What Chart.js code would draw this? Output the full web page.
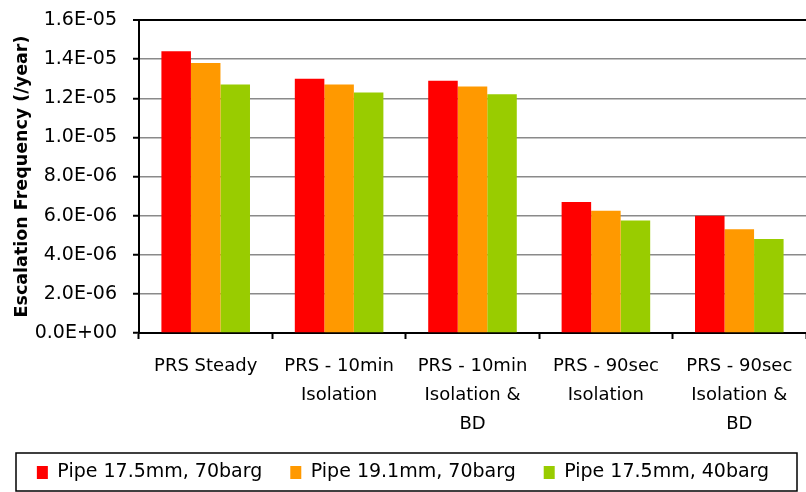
<!DOCTYPE html>
<html>
<head>
<meta charset="utf-8">
<script src="https://cdn.jsdelivr.net/npm/chart.js@4.4.0/dist/chart.umd.min.js"></script>
<style>
  html, body { margin: 0; padding: 0; background: #fff; }
  #wrap { width: 806px; height: 492px; position: relative; }
</style>
</head>
<body>
<div id="wrap"><canvas id="c"></canvas></div>
<script>
const categories = [
  ['PRS Steady'],
  ['PRS - 10min', 'Isolation'],
  ['PRS - 10min', 'Isolation &', 'BD'],
  ['PRS - 90sec', 'Isolation'],
  ['PRS - 90sec', 'Isolation &', 'BD']
];
const seriesNames = ['Pipe 17.5mm, 70barg', 'Pipe 19.1mm, 70barg', 'Pipe 17.5mm, 40barg'];
const pipe175_70 = [1.44e-5, 1.30e-5, 1.29e-5, 6.7e-6, 6.0e-6];
const pipe191_70 = [1.38e-5, 1.27e-5, 1.26e-5, 6.25e-6, 5.3e-6];
const pipe175_40 = [1.27e-5, 1.23e-5, 1.22e-5, 5.75e-6, 4.8e-6];
const yMin = 0, yMax = 1.6e-5, yStep = 2e-6;
const yTitle = 'Escalation Frequency (/year)';

const colors = ['#FF0000', '#FF9900', '#99CC00'];

function fmtExp(v) {
  if (Math.abs(v) < 1e-20) return '0.0E+00';
  let e = Math.floor(Math.log10(Math.abs(v)) + 1e-9);
  let m = v / Math.pow(10, e);
  if (Math.abs(m) >= 9.95) { m /= 10; e += 1; }
  const sign = e < 0 ? '-' : '+';
  const ea = Math.abs(e);
  return m.toFixed(1) + 'E' + sign + (ea < 10 ? '0' + ea : '' + ea);
}

Chart.defaults.font.family = "'DejaVu Sans', sans-serif";
Chart.defaults.color = '#000';

const legendBorder = {
  id: 'legendBorder',
  afterDraw(chart) {
    const lg = chart.legend;
    if (!lg || !lg.legendHitBoxes || !lg.legendHitBoxes.length) return;
    const hb = lg.legendHitBoxes[0];
    const cy = hb.top + hb.height / 2;
    const ctx = chart.ctx;
    ctx.save();
    ctx.strokeStyle = '#000';
    ctx.lineWidth = 1.5;
    ctx.strokeRect(16, Math.round(cy - 20), 781, 38);
    ctx.restore();
  }
};

new Chart(document.getElementById('c'), {
  type: 'bar',
  data: {
    labels: categories,
    datasets: [
      { label: seriesNames[0], data: pipe175_70, backgroundColor: colors[0] },
      { label: seriesNames[1], data: pipe191_70, backgroundColor: colors[1] },
      { label: seriesNames[2], data: pipe175_40, backgroundColor: colors[2] }
    ]
  },
  options: {
    responsive: true,
    maintainAspectRatio: false,
    animation: false,
    layout: { padding: { left: 0, right: 0, top: 20, bottom: 0 } },
    datasets: { bar: { categoryPercentage: 0.664, barPercentage: 1.0, borderWidth: 0 } },
    scales: {
      x: {
        afterFit: (scale) => { scale.height = 102; },
        grid: {
          offset: true,
          drawOnChartArea: false,
          drawTicks: true,
          tickLength: 6,
          tickColor: '#000',
          tickWidth: 2
        },
        border: { color: '#000', width: 2 },
        ticks: {
          font: { size: 18, lineHeight: 1.6 },
          padding: 13,
          maxRotation: 0,
          autoSkip: false
        }
      },
      y: {
        min: yMin,
        max: yMax,
        afterFit: (scale) => { scale.width = 139; scale.paddingTop = 0; scale.paddingBottom = 0; },
        grid: {
          color: (ctx) => (ctx.tick && Math.abs(ctx.tick.value - yMax) < 1e-12) ? '#000' : '#8a8a8a',
          lineWidth: (ctx) => (ctx.tick && Math.abs(ctx.tick.value - yMax) < 1e-12) ? 2 : 1.5,
          tickColor: '#000',
          tickLength: 6,
          tickWidth: 2
        },
        border: { color: '#000', width: 2 },
        ticks: {
          stepSize: yStep,
          font: { size: 19 },
          padding: 16,
          callback: (v) => fmtExp(v)
        },
        title: {
          display: true,
          text: yTitle,
          font: { size: 17.5, weight: 'bold' },
          padding: { top: 12, bottom: 0 }
        }
      }
    },
    plugins: {
      legend: {
        position: 'bottom',
        labels: {
          boxWidth: 11,
          boxHeight: 13,
          font: { size: 19 },
          padding: 28,
          color: '#000'
        }
      },
      tooltip: { enabled: false }
    }
  },
  plugins: [legendBorder]
});
</script>
</body>
</html>
